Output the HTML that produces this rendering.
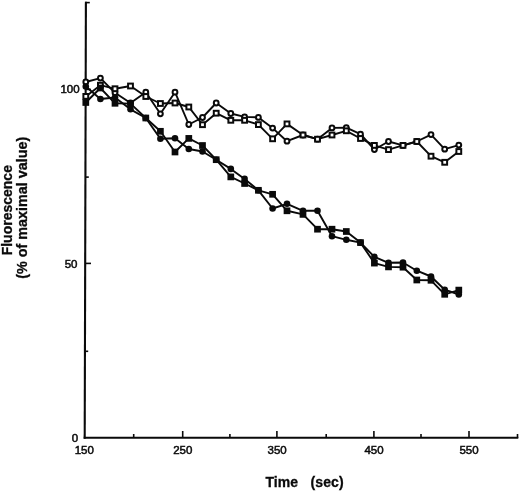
<!DOCTYPE html>
<html><head><meta charset="utf-8"><title>Fluorescence vs Time</title>
<style>
html,body{margin:0;padding:0;background:#fff;}
body{width:520px;height:491px;overflow:hidden;}
svg{display:block;will-change:transform;filter:grayscale(1);}
text{font-family:"Liberation Sans",sans-serif;fill:#0a0a0a;}
.t{font-size:11.5px;stroke:#0a0a0a;stroke-width:0.5px;}
.b{font-size:14px;font-weight:bold;stroke:#0a0a0a;stroke-width:0.3px;}
</style></head><body>
<svg width="520" height="491" viewBox="0 0 520 491">
<rect width="520" height="491" fill="#fff"/>
<g stroke="#0a0a0a" fill="none" stroke-linecap="butt">
<!-- axes -->
<line x1="85.9" y1="1.8" x2="84.7" y2="438.7" stroke-width="2.1"/>
<line x1="83.7" y1="437.7" x2="518.3" y2="437.7" stroke-width="2"/>
<!-- y ticks -->
<g stroke-width="1.6">
<line x1="85" y1="2.6" x2="89.8" y2="2.6"/>
<line x1="85" y1="89.4" x2="91" y2="89.4"/>
<line x1="85" y1="177.1" x2="88.8" y2="177.1"/>
<line x1="85" y1="263.4" x2="91" y2="263.4"/>
<line x1="84.5" y1="351.3" x2="88.2" y2="351.3"/>
<!-- x ticks -->
<line x1="133.7" y1="437" x2="133.7" y2="434"/>
<line x1="182.7" y1="437" x2="182.7" y2="431"/>
<line x1="229.9" y1="437" x2="229.9" y2="434"/>
<line x1="276.9" y1="437" x2="276.9" y2="431"/>
<line x1="326.2" y1="437" x2="326.2" y2="434"/>
<line x1="373.9" y1="437" x2="373.9" y2="431"/>
<line x1="421" y1="437" x2="421" y2="434"/>
<line x1="469" y1="437" x2="469" y2="431"/>
<line x1="517.5" y1="438" x2="517.5" y2="434"/>
</g>
</g>

<g stroke="#0a0a0a" stroke-width="1.9" fill="none" stroke-linejoin="round">
<polyline points="85.8,82.0 100.4,78.1 115.0,92.8 130.5,103.0 145.8,92.2 160.4,113.8 175.0,92.2 188.8,124.5 202.5,117.5 216.2,103.0 230.8,113.5 244.6,116.9 258.4,117.4 272.6,128.1 287.0,141.2 303.0,135.0 317.5,139.2 332.0,127.9 346.3,127.7 360.5,134.2 374.4,149.5 388.5,141.5 403.0,145.4 416.8,141.5 431.0,134.6 444.7,149.2 458.8,145.1"/>
<polyline points="85.8,96.4 100.4,85.2 115.0,88.8 130.5,86.0 145.8,96.5 160.4,103.5 175.0,103.0 188.8,107.0 202.5,124.7 216.2,113.2 230.8,120.3 244.6,120.3 258.4,124.6 272.6,138.8 287.0,123.9 303.0,135.0 317.5,139.2 332.0,135.0 346.3,130.8 360.5,138.5 374.4,145.4 388.5,149.6 403.0,145.4 416.8,141.5 431.0,156.2 444.7,162.3 458.8,151.5"/>
<polyline points="85.8,86.5 100.4,99.0 115.0,97.5 130.5,109.3 145.8,118.0 160.4,138.8 175.0,138.3 188.8,149.0 202.5,151.5 216.2,159.7 230.8,168.9 244.6,178.9 258.4,190.3 272.6,208.5 287.0,203.8 303.0,210.8 317.5,210.8 332.0,236.2 346.3,239.8 360.5,242.6 374.4,256.9 388.5,262.8 403.0,262.5 416.8,270.7 431.0,276.5 444.7,289.7 458.8,294.5"/>
<polyline points="85.8,102.5 100.4,88.0 115.0,103.3 130.5,103.6 145.8,118.0 160.4,131.3 175.0,152.0 188.8,138.4 202.5,145.5 216.2,159.7 230.8,176.9 244.6,183.5 258.4,190.3 272.6,194.3 287.0,210.8 303.0,214.4 317.5,229.2 332.0,229.2 346.3,231.5 360.5,242.6 374.4,263.1 388.5,266.9 403.0,267.2 416.8,280.0 431.0,280.3 444.7,294.3 458.8,290.1"/>
</g>
<g stroke="#0a0a0a" stroke-width="2" fill="#fff"><circle cx="85.8" cy="82.0" r="2.40"/><circle cx="100.4" cy="78.1" r="2.40"/><circle cx="115.0" cy="92.8" r="2.40"/><circle cx="130.5" cy="103.0" r="2.40"/><circle cx="145.8" cy="92.2" r="2.40"/><circle cx="160.4" cy="113.8" r="2.40"/><circle cx="175.0" cy="92.2" r="2.40"/><circle cx="188.8" cy="124.5" r="2.40"/><circle cx="202.5" cy="117.5" r="2.40"/><circle cx="216.2" cy="103.0" r="2.40"/><circle cx="230.8" cy="113.5" r="2.40"/><circle cx="244.6" cy="116.9" r="2.40"/><circle cx="258.4" cy="117.4" r="2.40"/><circle cx="272.6" cy="128.1" r="2.40"/><circle cx="287.0" cy="141.2" r="2.40"/><circle cx="303.0" cy="135.0" r="2.40"/><circle cx="317.5" cy="139.2" r="2.40"/><circle cx="332.0" cy="127.9" r="2.40"/><circle cx="346.3" cy="127.7" r="2.40"/><circle cx="360.5" cy="134.2" r="2.40"/><circle cx="374.4" cy="149.5" r="2.40"/><circle cx="388.5" cy="141.5" r="2.40"/><circle cx="403.0" cy="145.4" r="2.40"/><circle cx="416.8" cy="141.5" r="2.40"/><circle cx="431.0" cy="134.6" r="2.40"/><circle cx="444.7" cy="149.2" r="2.40"/><circle cx="458.8" cy="145.1" r="2.40"/></g>
<g stroke="#0a0a0a" stroke-width="2" fill="#fff"><rect x="83.40" y="94.00" width="4.80" height="4.80"/><rect x="98.00" y="82.80" width="4.80" height="4.80"/><rect x="112.60" y="86.35" width="4.80" height="4.80"/><rect x="128.10" y="83.60" width="4.80" height="4.80"/><rect x="143.40" y="94.10" width="4.80" height="4.80"/><rect x="158.00" y="101.10" width="4.80" height="4.80"/><rect x="172.60" y="100.60" width="4.80" height="4.80"/><rect x="186.40" y="104.60" width="4.80" height="4.80"/><rect x="200.10" y="122.30" width="4.80" height="4.80"/><rect x="213.80" y="110.80" width="4.80" height="4.80"/><rect x="228.40" y="117.90" width="4.80" height="4.80"/><rect x="242.20" y="117.90" width="4.80" height="4.80"/><rect x="256.00" y="122.20" width="4.80" height="4.80"/><rect x="270.20" y="136.40" width="4.80" height="4.80"/><rect x="284.60" y="121.50" width="4.80" height="4.80"/><rect x="300.60" y="132.60" width="4.80" height="4.80"/><rect x="315.10" y="136.80" width="4.80" height="4.80"/><rect x="329.60" y="132.60" width="4.80" height="4.80"/><rect x="343.90" y="128.40" width="4.80" height="4.80"/><rect x="358.10" y="136.10" width="4.80" height="4.80"/><rect x="372.00" y="143.00" width="4.80" height="4.80"/><rect x="386.10" y="147.20" width="4.80" height="4.80"/><rect x="400.60" y="143.00" width="4.80" height="4.80"/><rect x="414.40" y="139.10" width="4.80" height="4.80"/><rect x="428.60" y="153.80" width="4.80" height="4.80"/><rect x="442.30" y="159.90" width="4.80" height="4.80"/><rect x="456.40" y="149.10" width="4.80" height="4.80"/></g>
<g fill="#0a0a0a"><circle cx="85.8" cy="86.5" r="3.30"/><circle cx="100.4" cy="99.0" r="3.30"/><circle cx="115.0" cy="97.5" r="3.30"/><circle cx="130.5" cy="109.3" r="3.30"/><circle cx="145.8" cy="118.0" r="3.30"/><circle cx="160.4" cy="138.8" r="3.30"/><circle cx="175.0" cy="138.3" r="3.30"/><circle cx="188.8" cy="149.0" r="3.30"/><circle cx="202.5" cy="151.5" r="3.30"/><circle cx="216.2" cy="159.7" r="3.30"/><circle cx="230.8" cy="168.9" r="3.30"/><circle cx="244.6" cy="178.9" r="3.30"/><circle cx="258.4" cy="190.3" r="3.30"/><circle cx="272.6" cy="208.5" r="3.30"/><circle cx="287.0" cy="203.8" r="3.30"/><circle cx="303.0" cy="210.8" r="3.30"/><circle cx="317.5" cy="210.8" r="3.30"/><circle cx="332.0" cy="236.2" r="3.30"/><circle cx="346.3" cy="239.8" r="3.30"/><circle cx="360.5" cy="242.6" r="3.30"/><circle cx="374.4" cy="256.9" r="3.30"/><circle cx="388.5" cy="262.8" r="3.30"/><circle cx="403.0" cy="262.5" r="3.30"/><circle cx="416.8" cy="270.7" r="3.30"/><circle cx="431.0" cy="276.5" r="3.30"/><circle cx="444.7" cy="289.7" r="3.30"/><circle cx="458.8" cy="294.5" r="3.30"/></g>
<g fill="#0a0a0a"><rect x="82.45" y="99.15" width="6.70" height="6.70"/><rect x="97.05" y="84.65" width="6.70" height="6.70"/><rect x="111.65" y="99.95" width="6.70" height="6.70"/><rect x="127.15" y="100.25" width="6.70" height="6.70"/><rect x="142.45" y="114.65" width="6.70" height="6.70"/><rect x="157.05" y="127.95" width="6.70" height="6.70"/><rect x="171.65" y="148.65" width="6.70" height="6.70"/><rect x="185.45" y="135.05" width="6.70" height="6.70"/><rect x="199.15" y="142.15" width="6.70" height="6.70"/><rect x="212.85" y="156.35" width="6.70" height="6.70"/><rect x="227.45" y="173.55" width="6.70" height="6.70"/><rect x="241.25" y="180.15" width="6.70" height="6.70"/><rect x="255.05" y="186.95" width="6.70" height="6.70"/><rect x="269.25" y="190.95" width="6.70" height="6.70"/><rect x="283.65" y="207.45" width="6.70" height="6.70"/><rect x="299.65" y="211.05" width="6.70" height="6.70"/><rect x="314.15" y="225.85" width="6.70" height="6.70"/><rect x="328.65" y="225.85" width="6.70" height="6.70"/><rect x="342.95" y="228.15" width="6.70" height="6.70"/><rect x="357.15" y="239.25" width="6.70" height="6.70"/><rect x="371.05" y="259.75" width="6.70" height="6.70"/><rect x="385.15" y="263.55" width="6.70" height="6.70"/><rect x="399.65" y="263.85" width="6.70" height="6.70"/><rect x="413.45" y="276.65" width="6.70" height="6.70"/><rect x="427.65" y="276.95" width="6.70" height="6.70"/><rect x="441.35" y="290.95" width="6.70" height="6.70"/><rect x="455.45" y="286.75" width="6.70" height="6.70"/></g>

<g class="t">
<text x="79.6" y="93.3" text-anchor="end">100</text>
<text x="77.5" y="268.0" text-anchor="end">50</text>
<text x="78.2" y="442.0" text-anchor="end">0</text>
<text x="84.3" y="454.0" text-anchor="middle">150</text>
<text x="182.8" y="454.0" text-anchor="middle">250</text>
<text x="277.1" y="454.0" text-anchor="middle">350</text>
<text x="374" y="454.0" text-anchor="middle">450</text>
<text x="469" y="454.0" text-anchor="middle">550</text>
</g>
<g class="b">
<text x="265.5" y="486.7">Time</text>
<text x="310.4" y="486.7" style="letter-spacing:0.15px">(sec)</text>
<text transform="translate(11.6,210.2) rotate(-90)" text-anchor="middle">Fluorescence</text>
<text transform="translate(27.2,207.8) rotate(-90)" text-anchor="middle" style="font-size:14.35px">(% of maximal value)</text>
</g>
</svg>
</body></html>
